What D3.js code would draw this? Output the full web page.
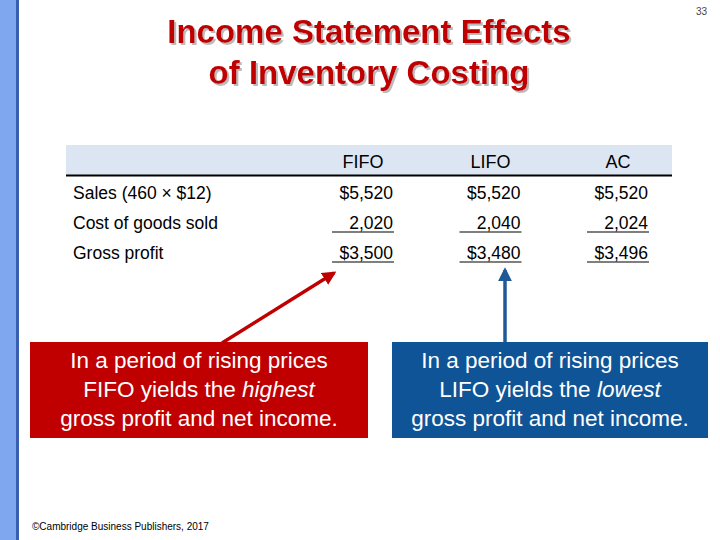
<!DOCTYPE html>
<html><head><meta charset="utf-8">
<script src="https://cdn.jsdelivr.net/npm/d3@7"></script>
<style>body{margin:0;background:#fff}svg{display:block;font-family:"Liberation Sans",Arial,sans-serif}</style>
</head><body><svg id="chart" width="720" height="540"></svg>
<script>
// table data
const methods = ["FIFO", "LIFO", "AC"];
const sales = [5520, 5520, 5520];
const cogs = [2020, 2040, 2024];
const gross = [3500, 3480, 3496];
const rowLabels = ["Sales (460 \u00d7 $12)", "Cost of goods sold", "Gross profit"];

const svg = d3.select("#chart");
const fmt = d3.format(",");
const defs = svg.append("defs");

// left side bar
svg.append("rect").attr("x", 0).attr("y", 0).attr("width", 18).attr("height", 540).attr("fill", "#7fa7f0");
svg.append("rect").attr("x", 16).attr("y", 0).attr("width", 3).attr("height", 540).attr("fill", "#3a5fb0");

svg.append("text").attr("x", 707).attr("y", 15).attr("text-anchor", "end")
  .attr("font-size", 10).attr("fill", "#444").text("33");

// title with shadow
const sh = defs.append("filter").attr("id", "shadow");
sh.append("feDropShadow").attr("dx", 2).attr("dy", 2).attr("stdDeviation", 0.5).attr("flood-color", "#bbb");
const titleLines = ["Income Statement Effects", "of Inventory Costing"];
titleLines.forEach((t, i) => {
  svg.append("text").attr("x", 369).attr("y", 43 + i * 41).attr("text-anchor", "middle")
    .attr("font-size", 33).attr("font-weight", "bold").attr("fill", "#c00000")
    .attr("filter", "url(#shadow)").text(t);
});

// columns
const x = d3.scalePoint().domain(methods).range([393, 648]);
const rowY = d3.scalePoint().domain([0, 1, 2]).range([199, 259]);

svg.append("rect").attr("x", 66).attr("y", 145).attr("width", 606).attr("height", 30).attr("fill", "#dce6f2");
svg.append("line").attr("x1", 66).attr("x2", 672).attr("y1", 175.5).attr("y2", 175.5).attr("stroke", "#000").attr("stroke-width", 2);

methods.forEach(m => {
  svg.append("text").attr("x", x(m) - 30).attr("y", 168).attr("text-anchor", "middle")
    .attr("font-size", 18).text(m);
});
rowLabels.forEach((l, i) => {
  svg.append("text").attr("x", 73).attr("y", rowY(i)).attr("font-size", 17.5).text(l);
});

const rows = [sales.map(v => "$" + fmt(v)), cogs.map(v => fmt(v)), gross.map(v => "$" + fmt(v))];
rows.forEach((r, i) => {
  r.forEach((v, j) => {
    svg.append("text").attr("x", x(methods[j])).attr("y", rowY(i)).attr("text-anchor", "end")
      .attr("font-size", 17.5).text(v);
    if (i > 0) {
      svg.append("line").attr("x1", x(methods[j]) - 61).attr("x2", x(methods[j]) + 1)
        .attr("y1", rowY(i) + 3).attr("y2", rowY(i) + 3).attr("stroke", "#000").attr("stroke-width", 1.2);
    }
  });
});

// arrows
[["r", "#c00000"], ["b", "#1f5a96"]].forEach(([id, c]) => {
  defs.append("marker").attr("id", "arr" + id).attr("viewBox", "0 0 10 10").attr("refX", 8).attr("refY", 5)
    .attr("markerWidth", 4).attr("markerHeight", 4).attr("orient", "auto")
    .append("path").attr("d", "M0,0L10,5L0,10z").attr("fill", c);
});
svg.append("line").attr("x1", 222).attr("y1", 343).attr("x2", 334).attr("y2", 273)
  .attr("stroke", "#c00000").attr("stroke-width", 3.5).attr("marker-end", "url(#arrr)");
svg.append("line").attr("x1", 505).attr("y1", 343).attr("x2", 505).attr("y2", 270)
  .attr("stroke", "#1f5a96").attr("stroke-width", 3.5).attr("marker-end", "url(#arrb)");

// callout boxes
const boxes = [
  {x: 30, w: 338, fill: "#c00000", word: "FIFO", emph: "highest"},
  {x: 392, w: 316, fill: "#0f5496", word: "LIFO", emph: "lowest"}
];
boxes.forEach(b => {
  svg.append("rect").attr("x", b.x).attr("y", 342).attr("width", b.w).attr("height", 96).attr("fill", b.fill);
  const cx = b.x + b.w / 2;
  svg.append("text").attr("x", cx).attr("y", 368).attr("text-anchor", "middle").attr("font-size", 22.5)
    .attr("fill", "#fff").text("In a period of rising prices");
  const t2 = svg.append("text").attr("x", cx).attr("y", 397).attr("text-anchor", "middle").attr("font-size", 22.5).attr("fill", "#fff");
  t2.append("tspan").text(b.word + " yields the ");
  t2.append("tspan").attr("font-style", "italic").text(b.emph);
  svg.append("text").attr("x", cx).attr("y", 426).attr("text-anchor", "middle").attr("font-size", 22.5)
    .attr("fill", "#fff").text("gross profit and net income.");
});

svg.append("text").attr("x", 32).attr("y", 530).attr("font-size", 10).attr("fill", "#000")
  .text("\u00a9Cambridge Business Publishers, 2017");
</script></body></html>
